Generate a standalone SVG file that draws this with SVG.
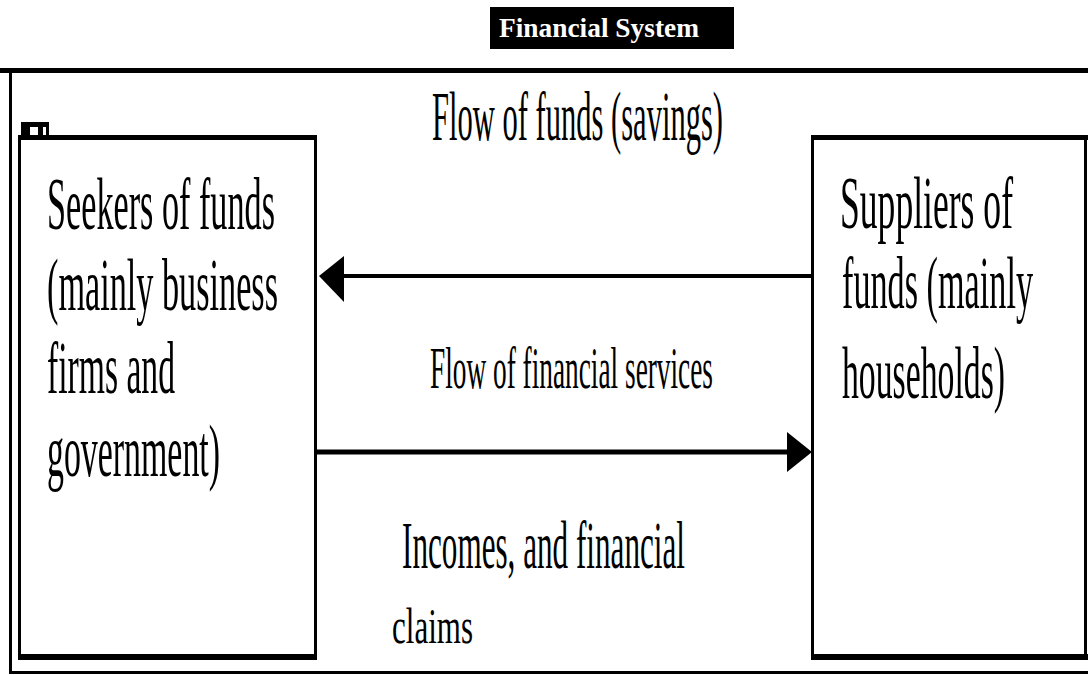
<svg xmlns="http://www.w3.org/2000/svg" width="1088" height="675" viewBox="0 0 1088 675">
<defs>
<style>
.t{font-family:"Liberation Serif","Times New Roman",serif;fill:#000;}
.title{font-family:"Liberation Serif","Times New Roman",serif;font-weight:bold;fill:#fff;}
.ln{stroke:#000;fill:none;}
</style>
</defs>
<rect width="1088" height="675" fill="#fff"/>

<g id="title">
<rect x="490" y="7" width="244" height="42" fill="#000"/>
<text class="title" x="499" y="37" font-size="27" textLength="200" lengthAdjust="spacingAndGlyphs">Financial System</text>
</g>

<g id="frame">
<rect x="0" y="68" width="1090" height="5" fill="#000"/>
<rect x="9" y="68" width="3" height="606" fill="#000"/>
<rect x="9" y="671" width="1081" height="3" fill="#000"/>
</g>

<g id="seekers">
<path d="M21,122 H49 V137 H46 V127 H43 V137 H38 V127 H30 V137 H21 Z" fill="#000"/>
<rect x="18" y="135" width="299" height="5" fill="#000"/>
<rect x="18" y="135" width="3" height="525" fill="#000"/>
<rect x="314" y="135" width="3" height="525" fill="#000"/>
<rect x="18" y="654" width="299" height="6" fill="#000"/>
<text class="t" x="47" y="229" font-size="74" textLength="228" lengthAdjust="spacingAndGlyphs">Seekers of funds</text>
<text class="t" x="47" y="310" font-size="74" textLength="231" lengthAdjust="spacingAndGlyphs">(mainly business</text>
<text class="t" x="47" y="393" font-size="74" textLength="128" lengthAdjust="spacingAndGlyphs">firms and</text>
<text class="t" x="47" y="476" font-size="74" textLength="173" lengthAdjust="spacingAndGlyphs">government)</text>
</g>

<g id="suppliers">
<rect x="811" y="135" width="279" height="5" fill="#000"/>
<rect x="811" y="135" width="3" height="525" fill="#000"/>
<rect x="1084" y="135" width="3" height="525" fill="#000"/>
<rect x="811" y="654" width="279" height="6" fill="#000"/>
<text class="t" x="840" y="228" font-size="74" textLength="173" lengthAdjust="spacingAndGlyphs">Suppliers of</text>
<text class="t" x="842" y="308" font-size="74" textLength="191" lengthAdjust="spacingAndGlyphs">funds (mainly</text>
<text class="t" x="842" y="398" font-size="74" textLength="163" lengthAdjust="spacingAndGlyphs">households)</text>
</g>

<g id="connectors">
<line class="ln" x1="811" y1="276" x2="344" y2="276" stroke-width="4"/>
<polygon points="319,276 344,256 344,302" fill="#000"/>
<line class="ln" x1="317" y1="452" x2="787" y2="452" stroke-width="5"/>
<polygon points="812,452 787,432 787,472" fill="#000"/>
</g>

<g id="labels">
<text class="t" x="432" y="140" font-size="69" textLength="291" lengthAdjust="spacingAndGlyphs">Flow of funds (savings)</text>
<text class="t" x="430" y="388" font-size="60" textLength="283" lengthAdjust="spacingAndGlyphs">Flow of financial services</text>
<text class="t" x="402" y="568" font-size="67" textLength="283" lengthAdjust="spacingAndGlyphs">Incomes, and financial</text>
<text class="t" x="392" y="643" font-size="50" textLength="81" lengthAdjust="spacingAndGlyphs">claims</text>
</g>
</svg>
